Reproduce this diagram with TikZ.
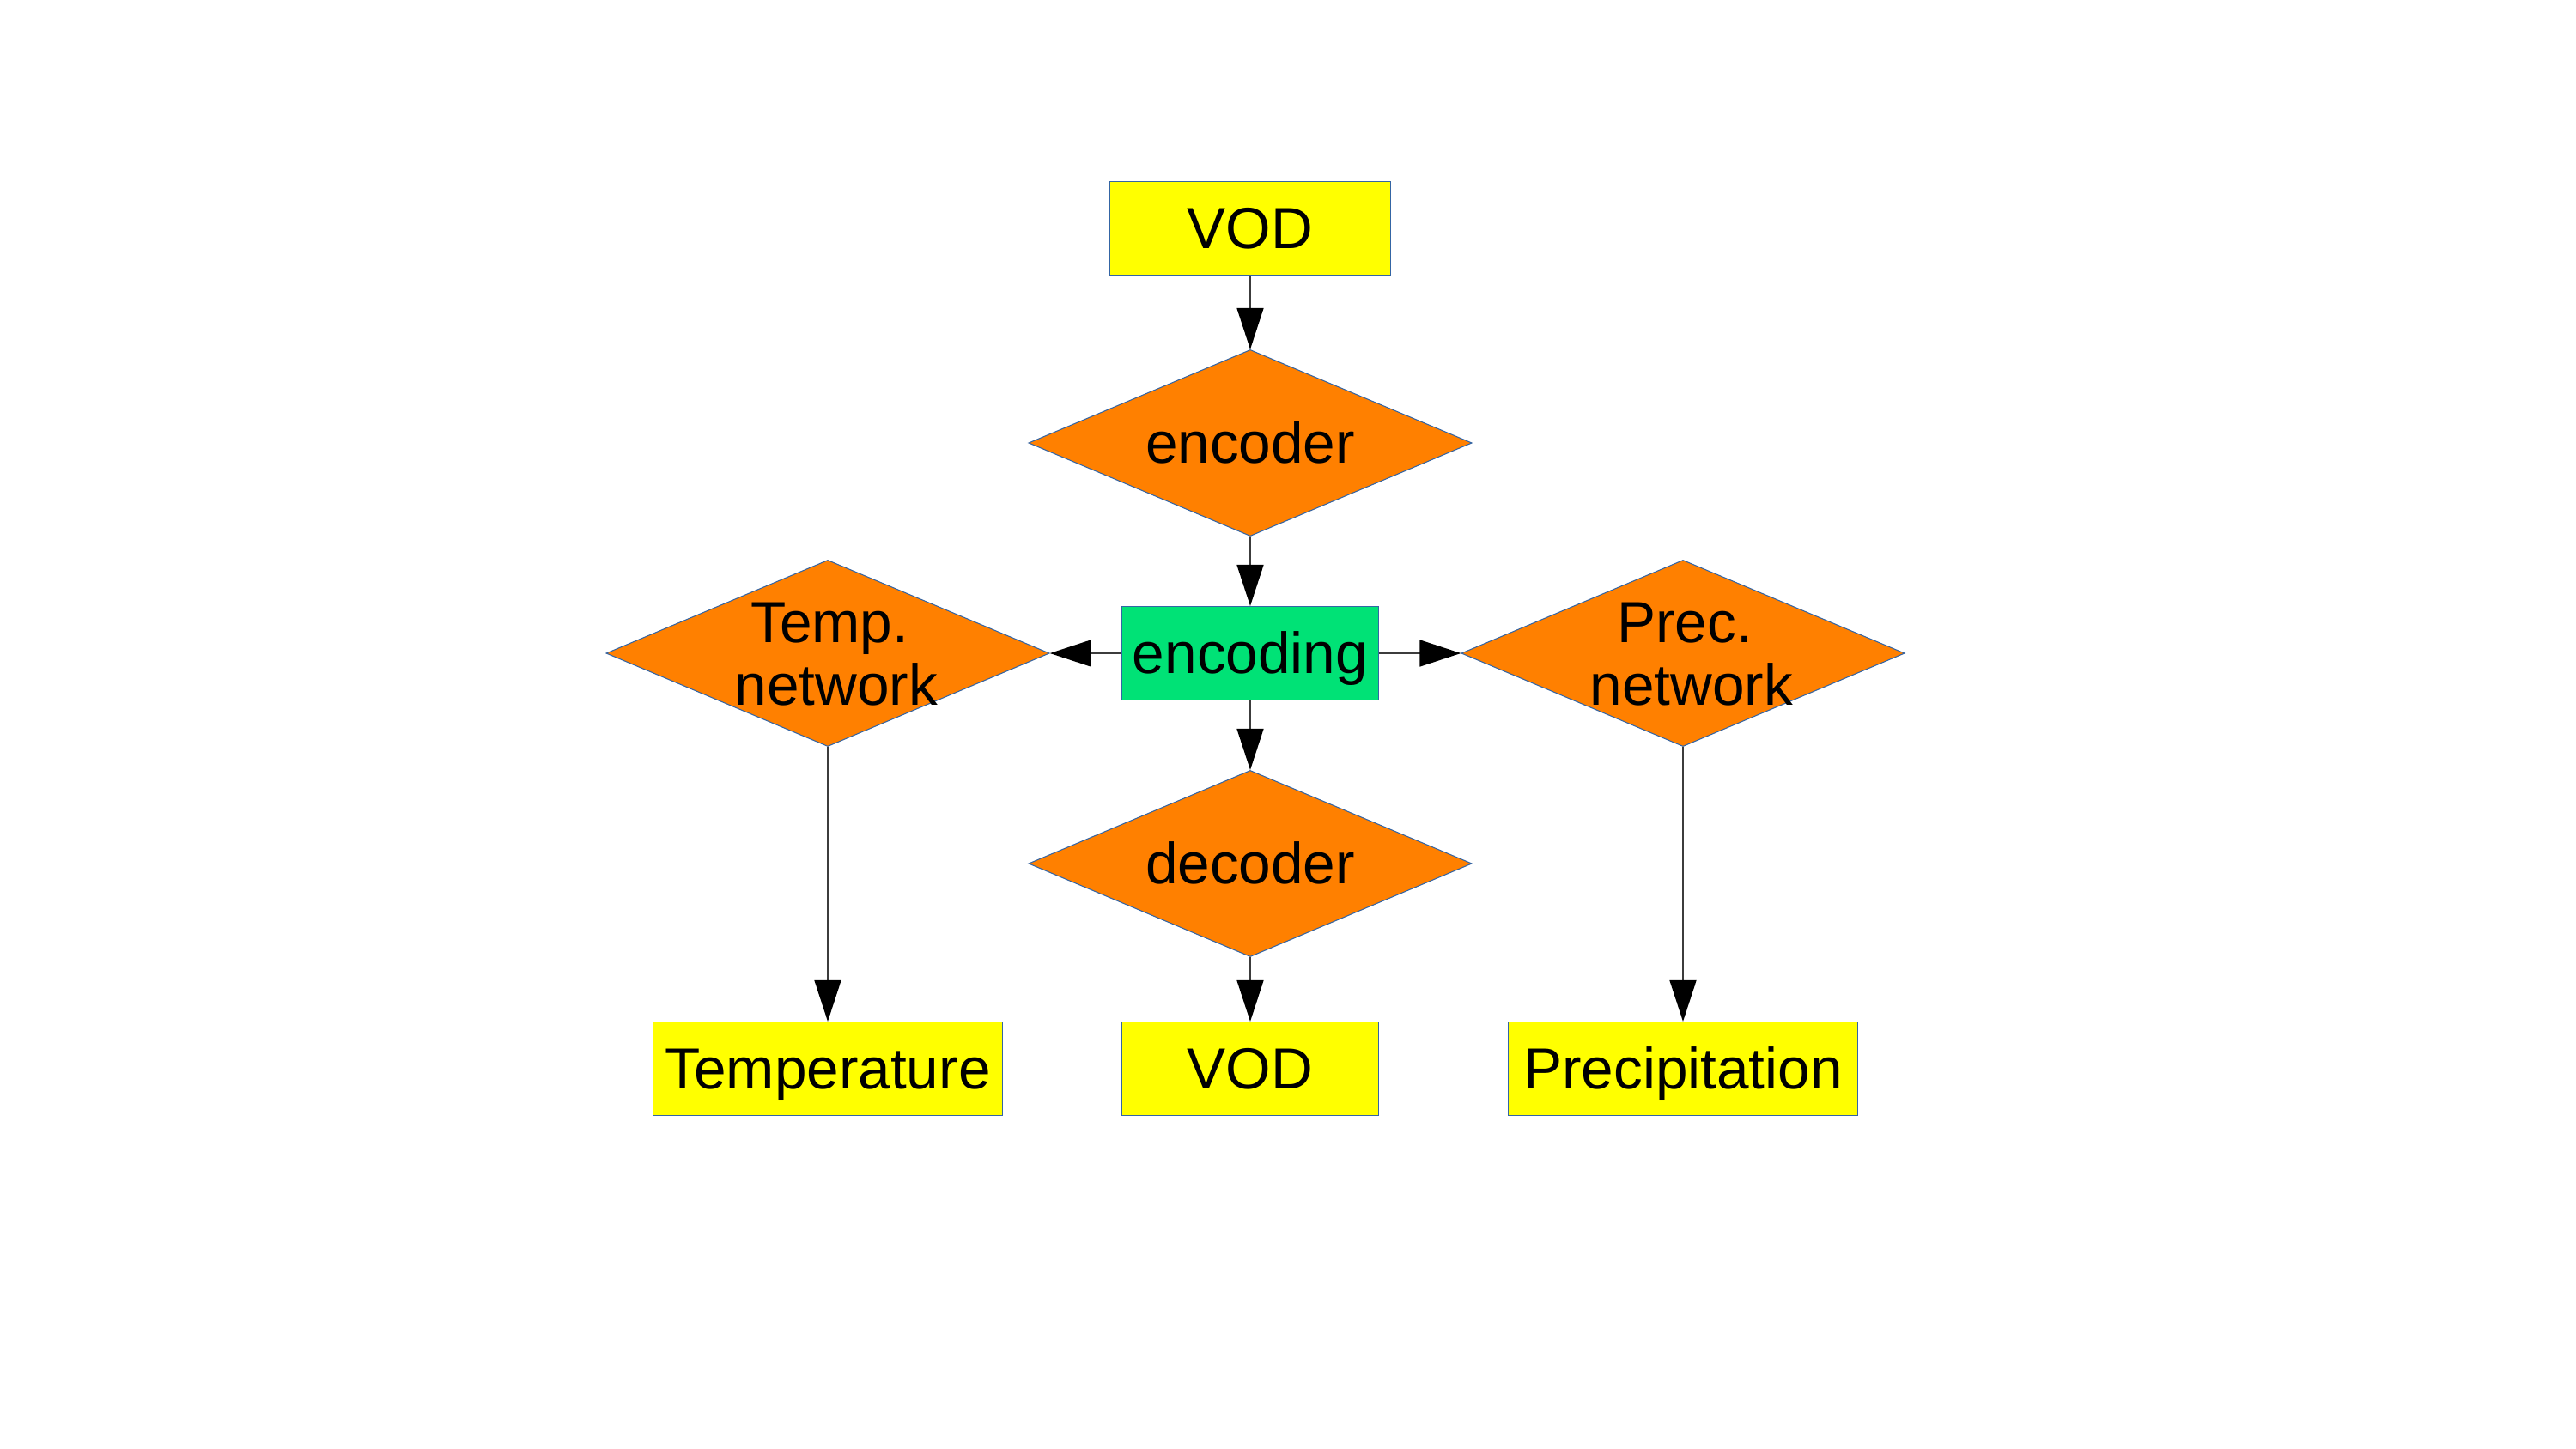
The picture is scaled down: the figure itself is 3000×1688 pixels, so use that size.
\documentclass[tikz,border=0pt]{standalone}
\usepackage{fontspec}
\setmainfont{Liberation Sans}
\usetikzlibrary{shapes.geometric,arrows.meta}
\definecolor{loorange}{HTML}{FF8000}
\definecolor{loyellow}{HTML}{FFFF00}
\definecolor{logreen}{HTML}{00E276}
\definecolor{bordercol}{HTML}{3465A4}
\definecolor{linecol}{HTML}{3C3C3C}
\begin{document}
\begin{tikzpicture}[x=0.01cm,y=-0.01cm,
  lbl/.style={font=\fontsize{19.2}{20.9}\selectfont},
  oneline/.style={lbl, inner sep=0pt, text height=17.4pt, text depth=4.07pt},
  boxnode/.style={oneline, draw=bordercol, line width=0.3pt, minimum height=1.09cm},
  ybox/.style={boxnode, fill=loyellow},
  gbox/.style={boxnode, fill=logreen},
  dia/.style={diamond, draw=bordercol, fill=loorange, line width=0.3pt,
    inner sep=0pt, minimum width=5.16cm, minimum height=2.17cm},
  diatext/.style={lbl, align=center, inner sep=0pt},
  conn/.style={draw=linecol, line width=0.45pt,
    -{Triangle[length=0.48cm,width=0.31cm,color=black]}}
]
\useasboundingbox[fill=white] (0,0) rectangle (3000,1688);

\node[ybox, minimum width=3.26cm] (vodtop) at (1456,266) {VOD};
\node[dia] (enc) at (1456,516) {};
\node[oneline] (enctext) at (enc) {encoder};
\node[gbox, minimum width=2.98cm] (encd) at (1456,761) {encoding};
\node[dia] (temp) at (964,761) {};
\node[diatext] (temptext) at (974,762) {Temp.\hspace*{0.23em}\\network};
\node[dia] (prec) at (1960,761) {};
\node[diatext] (prectext) at (1970,762) {Prec.\hspace*{0.23em}\\network};
\node[dia] (dec) at (1456,1006) {};
\node[oneline] (dectext) at (dec) {decoder};
\node[ybox, minimum width=4.07cm] (tout) at (964,1245) {Temperature};
\node[ybox, minimum width=2.98cm] (vodbot) at (1456,1245) {VOD};
\node[ybox, minimum width=4.07cm] (pout) at (1960,1245) {Precipitation};

\draw[conn] (vodtop.south) -- (enc.north);
\draw[conn] (enc.south) -- (encd.north);
\draw[conn] (encd.west) -- (temp.east);
\draw[conn] (encd.east) -- (prec.west);
\draw[conn] (encd.south) -- (dec.north);
\draw[conn] (dec.south) -- (vodbot.north);
\draw[conn] (temp.south) -- (tout.north);
\draw[conn] (prec.south) -- (pout.north);
\end{tikzpicture}
\end{document}
